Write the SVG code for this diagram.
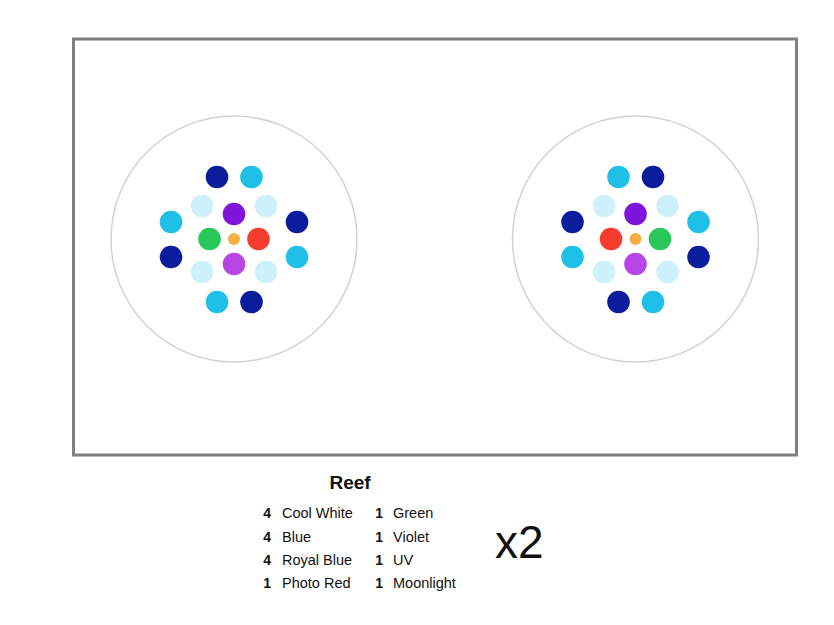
<svg xmlns="http://www.w3.org/2000/svg" width="834" height="625" viewBox="0 0 834 625">
<style>
.db{fill:#0b1d9c}.lb{fill:#1ec0e8}.pb{fill:#cdf0fa}.vi{fill:#7f14dc}.uv{fill:#b846e6}.gr{fill:#28c85a}.rd{fill:#f53c2e}.ml{fill:#f7ae45}
.ring{fill:none;stroke:#d2d2d2;stroke-width:1.5}
.t{font-family:"Liberation Sans",Arial,sans-serif;fill:#111}
.n{font-weight:bold;font-size:14px;text-anchor:end}
.l{font-size:14.5px}
</style>
<rect x="0" y="0" width="834" height="625" fill="#fff"/>
<rect id="frame" x="73.5" y="39" width="723" height="416" fill="#fff" stroke="#808080" stroke-width="3"/>
<g id="fixture-left">
<circle class="ring" cx="234" cy="239" r="123"/>
<circle class="db" cx="217" cy="177" r="11.3"/><circle class="lb" cx="251.5" cy="177" r="11.3"/>
<circle class="pb" cx="202" cy="206" r="11.3"/><circle class="pb" cx="266" cy="206" r="11.3"/>
<circle class="vi" cx="234" cy="214" r="11.3"/>
<circle class="lb" cx="171" cy="222" r="11.3"/><circle class="db" cx="297" cy="222" r="11.3"/>
<circle class="gr" cx="209.5" cy="239" r="11.3"/><circle class="ml" cx="234" cy="239" r="6"/><circle class="rd" cx="258.5" cy="239" r="11.3"/>
<circle class="db" cx="171" cy="257" r="11.3"/><circle class="lb" cx="297" cy="257" r="11.3"/>
<circle class="uv" cx="234" cy="264" r="11.3"/>
<circle class="pb" cx="202" cy="272" r="11.3"/><circle class="pb" cx="266" cy="272" r="11.3"/>
<circle class="lb" cx="217" cy="302" r="11.3"/><circle class="db" cx="251.5" cy="302" r="11.3"/>
</g>
<g id="fixture-right">
<circle class="ring" cx="635.5" cy="239" r="123"/>
<circle class="lb" cx="618.5" cy="177" r="11.3"/><circle class="db" cx="653" cy="177" r="11.3"/>
<circle class="pb" cx="604" cy="206" r="11.3"/><circle class="pb" cx="667.5" cy="206" r="11.3"/>
<circle class="vi" cx="635.5" cy="214" r="11.3"/>
<circle class="db" cx="572.5" cy="222" r="11.3"/><circle class="lb" cx="698.5" cy="222" r="11.3"/>
<circle class="rd" cx="611" cy="239" r="11.3"/><circle class="ml" cx="635.5" cy="239" r="6"/><circle class="gr" cx="660" cy="239" r="11.3"/>
<circle class="lb" cx="572.5" cy="257" r="11.3"/><circle class="db" cx="698.5" cy="257" r="11.3"/>
<circle class="uv" cx="635.5" cy="264" r="11.3"/>
<circle class="pb" cx="604" cy="272" r="11.3"/><circle class="pb" cx="667.5" cy="272" r="11.3"/>
<circle class="db" cx="618.5" cy="302" r="11.3"/><circle class="lb" cx="653" cy="302" r="11.3"/>
</g>
<g id="legend">
<text class="t" x="350" y="489" font-size="19" font-weight="bold" text-anchor="middle">Reef</text>
<text class="t n" x="271" y="518">4</text><text class="t l" x="282" y="518">Cool White</text>
<text class="t n" x="271" y="541.5">4</text><text class="t l" x="282" y="541.5">Blue</text>
<text class="t n" x="271" y="565">4</text><text class="t l" x="282" y="565">Royal Blue</text>
<text class="t n" x="271" y="588">1</text><text class="t l" x="282" y="588">Photo Red</text>
<text class="t n" x="383" y="518">1</text><text class="t l" x="393" y="518">Green</text>
<text class="t n" x="383" y="541.5">1</text><text class="t l" x="393" y="541.5">Violet</text>
<text class="t n" x="383" y="565">1</text><text class="t l" x="393" y="565">UV</text>
<text class="t n" x="383" y="588">1</text><text class="t l" x="393" y="588">Moonlight</text>
<text class="t" x="495" y="558" font-size="46" fill="#000">x2</text>
</g>
</svg>
